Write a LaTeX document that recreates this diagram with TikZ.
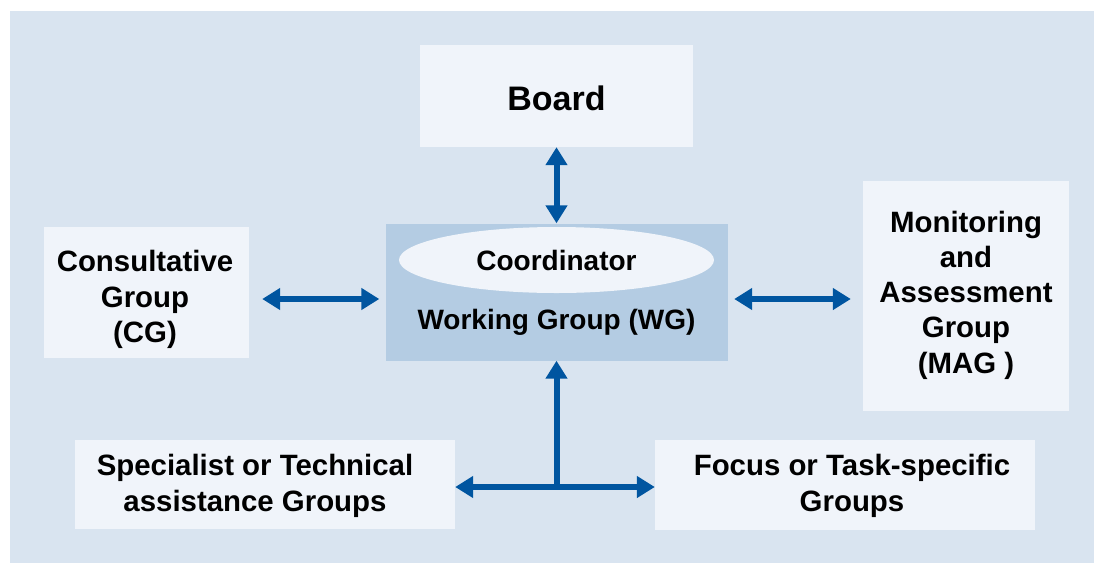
\documentclass[tikz,border=0pt]{standalone}
\usepackage{fontspec}
\setmainfont{Liberation Sans}
\usetikzlibrary{arrows.meta,shapes.geometric}
\definecolor{bgblue}{RGB}{217,228,240}
\definecolor{boxfill}{RGB}{240,244,250}
\definecolor{wgfill}{RGB}{180,204,227}
\definecolor{arrblue}{RGB}{0,85,160}
\tikzset{
  box/.style={rectangle, fill=boxfill, draw=none, inner sep=0pt},
  lbl/.style={inner sep=0pt, align=center, font=\fontsize{28}{35}\selectfont\bfseries},
  blbl/.style={inner sep=0pt, align=center, font=\fontsize{29.4}{35.3}\selectfont\bfseries},
  conn/.style={draw=arrblue, line width=6pt},
  dbl/.style={conn, {Triangle[width=21pt,length=18pt]}-{Triangle[width=21pt,length=18pt]}},
  sgl/.style={conn, -{Triangle[width=21pt,length=18pt]}},
}
\begin{document}
\begin{tikzpicture}[x=1pt,y=-1pt]
\useasboundingbox (0,0) rectangle (1094,563);
\fill[white] (0,0) rectangle (1094,563);
\fill[bgblue] (10,11) rectangle (1094,563);
% boxes
\node[box, minimum width=273pt, minimum height=102pt] (board) at (556.5,96) {};
\node[inner sep=0pt, font=\fontsize{34}{40}\selectfont\bfseries] (boardtext) at (556.5,98) {Board};
\node[rectangle, fill=wgfill, minimum width=342pt, minimum height=137pt, inner sep=0pt] (wg) at (556.5,292) {};
\node[ellipse, fill=boxfill, minimum width=315pt, minimum height=66pt, inner sep=0pt, font=\fontsize{28}{35}\selectfont\bfseries] (coord) at (556.5,260) {Coordinator};
\node[lbl] (wgtext) at (556.5,322) {Working Group (WG)};
\node[box, minimum width=205pt, minimum height=131pt] (cg) at (146.5,292.5) {};
\node[box, minimum width=206pt, minimum height=230pt] (mag) at (966,296) {};
\node[box, minimum width=380pt, minimum height=89pt] (spec) at (265,484.5) {};
\node[box, minimum width=380pt, minimum height=90pt] (focus) at (845,485) {};
% texts
\node[blbl] (cgtext) at (145,299.5) {Consultative\\Group\\(CG)};
\node[blbl] (magtext) at (966,295) {Monitoring\\and\\Assessment\\Group\\(MAG )};
\node[blbl] (spectext) at (255,486) {Specialist or Technical\\assistance Groups};
\node[blbl] (focustext) at (852,486) {Focus or Task-specific\\Groups};
\coordinate (j) at (556.5,487);
% connectors
\draw[dbl] (board.south) -- (wg.north);
\draw[dbl, shorten <=13pt, shorten >=6pt] ([yshift=-6.5pt]cg.east) -- ([yshift=-7pt]wg.west);
\draw[dbl, shorten <=6.5pt, shorten >=12pt] ([yshift=-7pt]wg.east) -- ([yshift=-3pt]mag.west);
\draw[dbl] ([yshift=-2.5pt]spec.east) -- ([yshift=-2pt]focus.west);
\draw[sgl] (j) -- (wg.south);
\end{tikzpicture}
\end{document}
